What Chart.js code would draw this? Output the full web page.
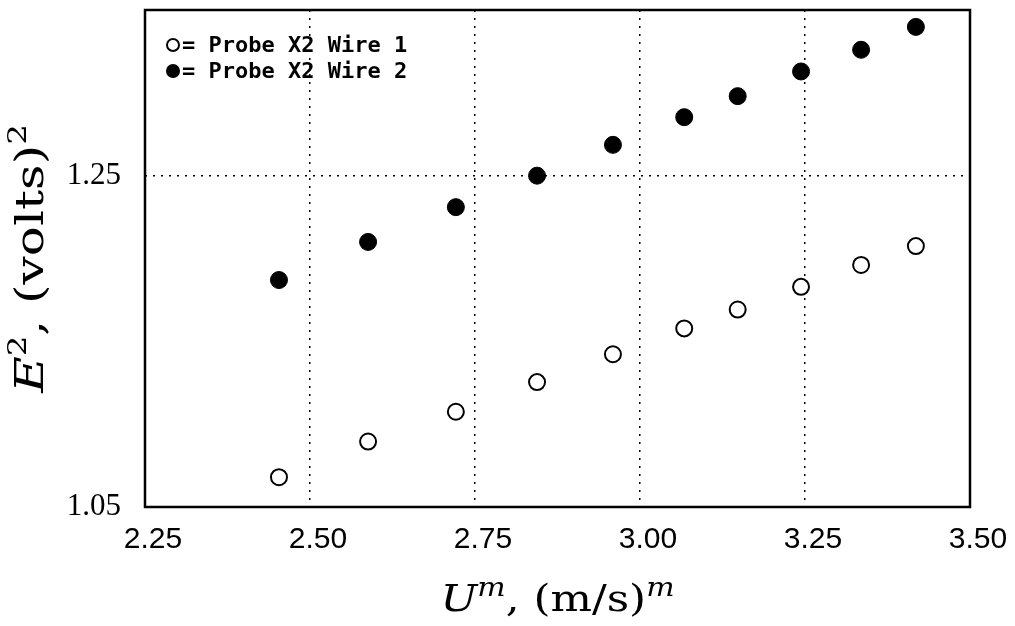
<!DOCTYPE html>
<html>
<head>
<meta charset="utf-8">
<script src="https://cdn.jsdelivr.net/npm/chart.js@4"></script>
<style>
  html, body { margin: 0; padding: 0; background: #fff; }
</style>
</head>
<body>
<canvas id="grafico" width="1015" height="626"></canvas>
<script>
// Datos
const xValores = [2.453, 2.588, 2.721, 2.844, 2.959, 3.067, 3.148, 3.244, 3.335, 3.418];
const wire1 = [1.068, 1.0895, 1.1075, 1.1254, 1.1422, 1.1578, 1.1692, 1.1829, 1.1961, 1.2075];
const wire2 = [1.187, 1.210, 1.231, 1.250, 1.2686, 1.2853, 1.298, 1.3129, 1.326, 1.3398];
const xTicks = [2.25, 2.5, 2.75, 3.0, 3.25, 3.5];
const yTicks = [1.05, 1.25];
const nombres = ["Probe X2 Wire 1", "Probe X2 Wire 2"];

function puntos(ys) {
  return xValores.map((x, i) => ({ x: x, y: ys[i] }));
}

// Marco negro alrededor del área del gráfico
const marcoPlugin = {
  id: "marco",
  afterDraw(chart) {
    const { ctx, chartArea: a } = chart;
    ctx.save();
    ctx.strokeStyle = "#000";
    ctx.lineWidth = 2.5;
    ctx.strokeRect(a.left, a.top, a.right - a.left, a.bottom - a.top);
    ctx.restore();
  },
};

// Leyenda dentro del gráfico, arriba a la izquierda
const leyendaPlugin = {
  id: "leyenda",
  afterDraw(chart) {
    const ctx = chart.ctx;
    const a = chart.chartArea;
    ctx.save();
    ctx.font = "bold 22px 'DejaVu Sans Mono'";
    ctx.textBaseline = "middle";
    ctx.fillStyle = "#000";
    chart.data.datasets.forEach((ds, i) => {
      const y = a.top + 35 + i * 26;
      const cx = a.left + 28;
      ctx.beginPath();
      if (ds.pointBackgroundColor === "#000") {
        ctx.arc(cx, y, 7, 0, Math.PI * 2);
        ctx.fill();
      } else {
        ctx.lineWidth = 2;
        ctx.arc(cx, y, 6, 0, Math.PI * 2);
        ctx.stroke();
      }
      ctx.fillText("= " + ds.label, cx + 9, y + 1);
    });
    ctx.restore();
  },
};

// Dibuja texto con partes en cursiva y superíndices, estirado en horizontal
function dibujarPartes(ctx, partes, cx, base, sx) {
  let total = 0;
  partes.forEach((p) => {
    ctx.font = p.font;
    p.w = ctx.measureText(p.t).width;
    total += p.w;
  });
  ctx.save();
  ctx.translate(cx, base);
  ctx.scale(sx, 1);
  let x = -total / 2;
  partes.forEach((p) => {
    ctx.font = p.font;
    ctx.fillText(p.t, x, p.dy || 0);
    x += p.w;
  });
  ctx.restore();
}

const titulosPlugin = {
  id: "titulos",
  afterDraw(chart) {
    const ctx = chart.ctx;
    const a = chart.chartArea;
    const serif = "'DejaVu Serif'";
    ctx.save();
    ctx.fillStyle = "#000";
    ctx.textBaseline = "alphabetic";
    // Título eje X
    dibujarPartes(ctx, [
      { t: "U", font: "italic 38px " + serif },
      { t: "m", font: "italic 26px " + serif, dy: -15 },
      { t: ", (m/s)", font: "38px " + serif },
      { t: "m", font: "italic 26px " + serif, dy: -15 },
    ], (a.left + a.right) / 2, 611, 1.15);
    // Título eje Y (rotado)
    ctx.translate(43, (a.top + a.bottom) / 2);
    ctx.rotate(-Math.PI / 2);
    dibujarPartes(ctx, [
      { t: "E", font: "italic 40px " + serif },
      { t: "2", font: "26px " + serif, dy: -17 },
      { t: ", (volts)", font: "40px " + serif },
      { t: "2", font: "26px " + serif, dy: -17 },
    ], 0, 0, 1.25);
    ctx.restore();
  },
};

const ctx = document.getElementById("grafico").getContext("2d");

new Chart(ctx, {
  type: "scatter",
  data: {
    datasets: [
      {
        label: nombres[0],
        data: puntos(wire1),
        pointRadius: 8,
        pointBorderWidth: 2,
        pointBorderColor: "#000",
        pointBackgroundColor: "#fff",
      },
      {
        label: nombres[1],
        data: puntos(wire2),
        pointRadius: 8.5,
        pointBorderWidth: 1,
        pointBorderColor: "#000",
        pointBackgroundColor: "#000",
      },
    ],
  },
  options: {
    responsive: false,
    devicePixelRatio: 1,
    animation: false,
    layout: {
      padding: { left: 0, right: 45, top: 7, bottom: 0 },
    },
    plugins: {
      legend: { display: false },
      tooltip: { enabled: false },
    },
    scales: {
      x: {
        type: "linear",
        min: 2.25,
        max: 3.5,
        afterBuildTicks: (scale) => {
          scale.ticks = xTicks.map((v) => ({ value: v }));
        },
        afterFit: (scale) => {
          scale.height = 119;
          scale.paddingLeft = 0;
          scale.paddingRight = 0;
        },
        ticks: {
          callback: (v) => v.toFixed(2),
          font: { family: "'Liberation Sans'", size: 30 },
          color: "#000",
          padding: 15,
          labelOffset: 8,
          maxRotation: 0,
        },
        grid: {
          drawTicks: false,
          lineWidth: 1.5,
          color: (c) =>
            c.tick && (c.tick.value === 2.25 || c.tick.value === 3.5) ? "rgba(0,0,0,0)" : "#000",
        },
        border: { display: false, dash: [2, 6] },
      },
      y: {
        type: "linear",
        min: 1.05,
        max: 1.35,
        afterBuildTicks: (scale) => {
          scale.ticks = yTicks.map((v) => ({ value: v }));
        },
        afterFit: (scale) => {
          scale.width = 145;
          scale.paddingTop = 0;
          scale.paddingBottom = 0;
        },
        ticks: {
          callback: (v) => v.toFixed(2),
          font: { family: "'Liberation Serif'", size: 31 },
          color: "#000",
          padding: 24,
        },
        grid: {
          drawTicks: false,
          lineWidth: 1.5,
          color: (c) => (c.tick && c.tick.value === 1.05 ? "rgba(0,0,0,0)" : "#000"),
        },
        border: { display: false, dash: [2, 6] },
      },
    },
  },
  plugins: [marcoPlugin, leyendaPlugin, titulosPlugin],
});
</script>
</body>
</html>
